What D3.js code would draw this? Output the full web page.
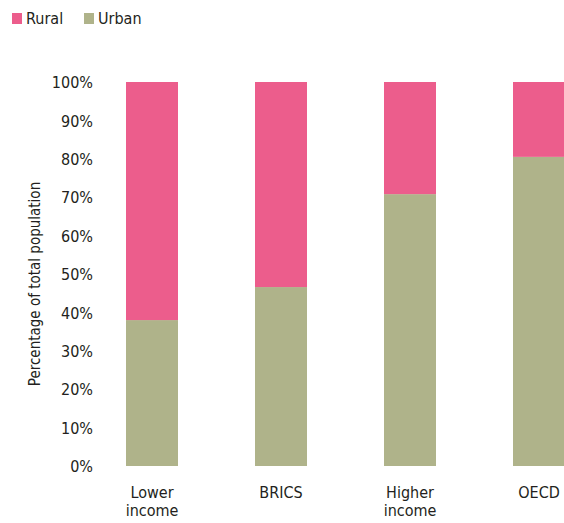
<!DOCTYPE html>
<html>
<head>
<meta charset="utf-8">
<script src="https://cdn.jsdelivr.net/npm/d3@7"></script>
<style>
  html, body { margin: 0; padding: 0; background: #fff; }
  svg { display: block; }
  text { font-family: "Liberation Sans Narrow", "DejaVu Sans Condensed", "Roboto Condensed", sans-serif; fill: #231f20; }
</style>
</head>
<body>
<svg id="chart" width="564" height="523"></svg>
<script>
// Urban / rural share of total population by country group
const categories = [["Lower", "income"], ["BRICS"], ["Higher", "income"], ["OECD"]];
const urban = [38.0, 46.6, 70.8, 80.5];
const rural = urban.map(u => 100 - u);
const seriesNames = ["Rural", "Urban"];
const seriesColors = ["#ec5d8c", "#afb38a"];
const yTicks = [0, 10, 20, 30, 40, 50, 60, 70, 80, 90, 100];

const svg = d3.select("#chart");
const keys = categories.map(c => c.join(" "));

const x = d3.scaleBand()
  .domain(keys)
  .range([87.5, 603.5])
  .paddingInner(0.597)
  .paddingOuter(0.2985);

const y = d3.scaleLinear().domain([0, 100]).range([466, 82]);

// stacked bars: urban at the bottom, rural on top
const rows = keys.map((k, i) => ({ key: k, Urban: urban[i], Rural: rural[i] }));
const stack = d3.stack().keys(["Urban", "Rural"])(rows);
const colorOf = { Rural: seriesColors[0], Urban: seriesColors[1] };

svg.append("g").selectAll("g")
  .data(stack)
  .join("g")
  .attr("fill", d => colorOf[d.key])
  .selectAll("rect")
  .data(d => d)
  .join("rect")
  .attr("x", d => x(d.data.key))
  .attr("width", x.bandwidth())
  .attr("y", d => y(d[1]))
  .attr("height", d => y(d[0]) - y(d[1]));

// y axis (labels only)
const yAxis = svg.append("g")
  .attr("transform", "translate(93,0)")
  .call(d3.axisLeft(y).tickValues(yTicks).tickFormat(d => d + "%").tickSize(0).tickPadding(0));
yAxis.select(".domain").remove();
yAxis.selectAll("text")
  .attr("font-size", 16)
  .attr("dy", "0.35em")
  .style("font-family", null);

svg.append("text")
  .attr("transform", "translate(40,284) rotate(-90)")
  .attr("text-anchor", "middle")
  .attr("font-size", 15)
  .text("Percentage of total population");

// category labels
const xl = svg.append("g").selectAll("text")
  .data(categories)
  .join("text")
  .attr("x", (d, i) => x(keys[i]) + x.bandwidth() / 2)
  .attr("y", 498)
  .attr("text-anchor", "middle")
  .attr("font-size", 16);
xl.selectAll("tspan")
  .data(d => d)
  .join("tspan")
  .attr("x", function() { return this.parentNode.getAttribute("x"); })
  .attr("dy", (d, i) => i === 0 ? 0 : 18)
  .text(d => d);

// legend
const legendX = [12, 84];
const lg = svg.append("g").selectAll("g")
  .data(seriesNames)
  .join("g")
  .attr("transform", (d, i) => `translate(${legendX[i]},13)`);
lg.append("rect").attr("width", 10).attr("height", 11).attr("fill", (d, i) => seriesColors[i]);
lg.append("text").attr("x", 14).attr("y", 11).attr("font-size", 16).text(d => d);
</script>
</body>
</html>
